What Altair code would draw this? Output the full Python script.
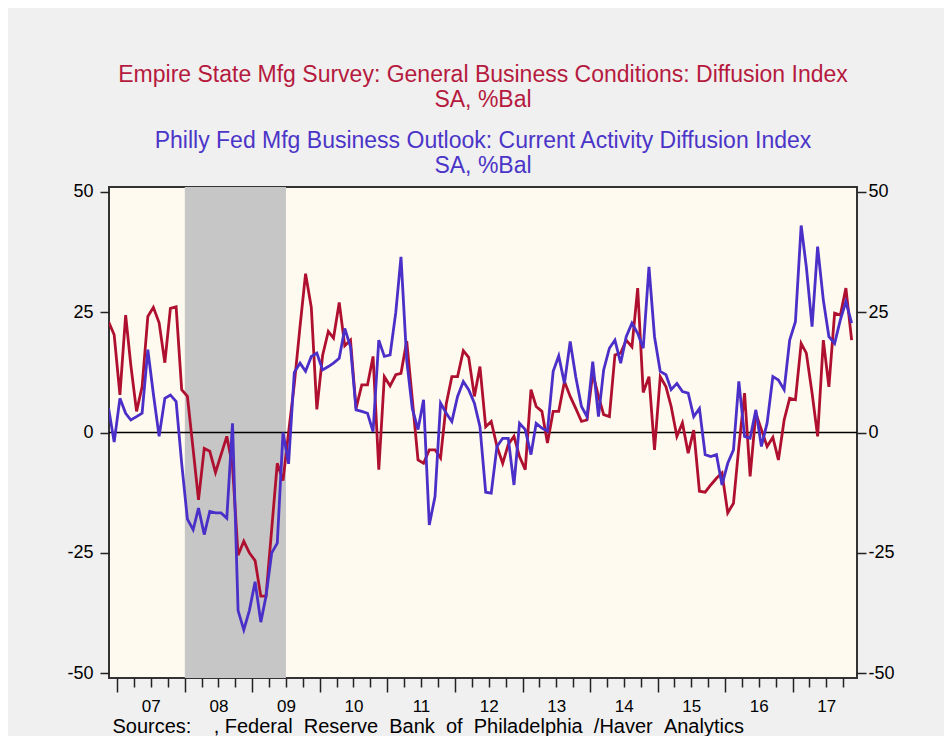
import altair as alt
import pandas as pd

FONT = "Liberation Sans"
RED = "#B0102F"
BLUE = "#4A2FC8"
RED_T = "#B51A3E"
BLUE_T = "#4B35C8"

# Monthly observations, Nov 2006 .. Nov 2017 (plotted mid-month)
start_month = "2006-11-01"
n_months = 133

empire = [
    23, 20.3,
    7.8, 24.4, 14, 4.4, 9.5, 24.1, 26, 22.8, 14.5, 25.8, 26.1, 8.9,
    7.5, -3.5, -14, -3.3, -3.9, -8.3, -4.6, -0.8, -7, -25.5, -22.6, -25,
    -26.6, -34, -34, -20, -6.4, -10, 0, 10, 22, 33, 26, 4.8,
    16, 21, 19.6, 27, 18, 19.2, 5, 9.9, 9.9, 15.8, -7.7, 11.6,
    9.7, 12, 12.3, 19, 7, -5.7, -6.4, -3.6, -3.6, -5.3, 6, 11.6,
    11.6, 17, 15.6, 7.5, 13.7, 1.2, 2.3, -2.9, -6.4, -2.5, -0.8, -5,
    -7.7, 8.9, 5.4, 4.4, -2.2, 4.4, 4.4, 10.6, 7.5, 5, 2.3, 2.6,
    12.3, 7.5, 3.7, 3.3, 16.1, 16.5, 19.2, 17.8, 30, 8.3, 11.6, -3.6,
    11.6, 9.5, 5.4, -0.8, 2, -4.3, 0.5, -12.2, -12.4, -10.9, -9.5, -8.4,
    -16.7, -14.7, -3, 8.2, -9.1, 4, 0.6, -2.9, -1, -5.7, 2.6, 7.1,
    6.8, 18.5, 16.5, 8.2, -0.8, 19.2, 9.5, 24.8, 24.4, 30, 19.2,
]

philly = [
    5, -2,
    7.1, 4, 2.6, 3.3, 4, 17.2, 8, -0.8, 7.1, 7.8, 6.4, -6.4,
    -18, -20.2, -15.7, -21.2, -16.4, -16.7, -16.7, -17.8, 1.9, -37, -41, -37,
    -31, -39.4, -34, -25, -23, 0, -6.5, 12.5, 14.4, 12.7, 15.8, 16.5,
    13, 13.7, 14.4, 15.4, 21.6, 17.8, 4.7, 4.4, 4, 0.2, 19.2, 15.8,
    16.1, 25, 36.5, 15, 5, 0.6, 6.8, -19.2, -13.3, 6.1, 4, 2.3,
    7.5, 10.6, 8.9, 6.1, 1.2, -12.4, -12.6, -2.9, -1.2, -1.2, -10.9, 1.9,
    0.6, -4.6, 1.9, 0.9, 0.3, 12.7, 15.9, 10.2, 18.9, 11.6, 5.4, 3.3,
    14.7, 3.3, 13, 17.5, 19.2, 14.4, 19.9, 22.7, 20.6, 17.5, 34.4, 19.9,
    12.7, 12, 8.9, 10.2, 8.5, 8.2, 3.3, 5, -4.6, -5, -4.6, -10.9,
    -6.4, -3.6, 10.6, -0.8, -1.2, 4.7, -2.9, 2, 11.6, 10.9, 8.9, 19.2,
    23, 43, 34.4, 22, 38.6, 27.5, 19.9, 18.5, 23.4, 27.2, 22.7,
]

recession_start = ["2008-01-01"]
recession_end = ["2009-07-01"]

y_ticks = [-50, -25, 0, 25, 50]
tick_years = list(range(2007, 2018))
tick_months = [1, 4, 7, 10]

title_lines = ["Empire State Mfg Survey: General Business Conditions: Diffusion Index", "SA, %Bal"]
subtitle_lines = ["Philly Fed Mfg Business Outlook: Current Activity Diffusion Index", "SA, %Bal"]
NB = "\u00a0"
GAP = NB * 2
sources = ("Sources:" + NB * 4 + ", Federal" + GAP + "Reserve" + GAP + "Bank" + GAP + "of"
           + GAP + "Philadelphia" + GAP + "/Haver" + GAP + "Analytics")

assert len(empire) == n_months and len(philly) == n_months

dates = [d.strftime("%Y-%m-15") for d in pd.date_range(start_month, periods=n_months, freq="MS")]
df = pd.DataFrame({"date": dates, "empire": empire, "philly": philly})
rec = pd.DataFrame({"start": recession_start, "end": recession_end})
zero = pd.DataFrame({"v": [0]})

x_scale = alt.Scale(
    type="utc",
    domain=[alt.DateTime(year=2006, month=11, date=17, utc=True),
            alt.DateTime(year=2017, month=12, date=14, utc=True)],
)
tick_values = [alt.DateTime(year=yy, month=mm, date=1, utc=True) for yy in tick_years for mm in tick_months]

x_axis = alt.Axis(
    values=tick_values,
    labelExpr="utcmonth(datum.value) == 6 ? utcFormat(datum.value, '%y') : ''",
    tickSize={"condition": {"test": "utcmonth(datum.value) == 0", "value": 14}, "value": 9},
    tickColor="#222",
    tickWidth=1.5,
    domain=False,
    grid=False,
    labelFont=FONT,
    labelFontSize=17,
    labelColor="black",
    labelPadding=11,
    labelOverlap=False,
    labelFlush=False,
    title=sources,
    titleFont=FONT,
    titleFontSize=20,
    titleFontWeight="normal",
    titleColor="black",
    titleAlign="left",
    titleAnchor="start",
    titleBaseline="alphabetic",
    titleX=3,
    titleY=54,
)

y_scale = alt.Scale(domain=[-51, 51], nice=False, zero=False)


def y_axis(orient, pad):
    return alt.Axis(
        orient=orient,
        values=y_ticks,
        labelExpr="datum.value < 0 ? '-' + abs(datum.value) : '' + datum.value",
        tickSize=9,
        tickWidth=1.5,
        tickColor="#222",
        domain=False,
        grid=False,
        labelFont=FONT,
        labelFontSize=18,
        labelColor="black",
        labelPadding=pad,
        labelFlush=False,
        title=None,
    )


X = alt.X("date:T", scale=x_scale, axis=x_axis)

rect = alt.Chart(rec).mark_rect(color="#C6C6C6").encode(
    x=alt.X("start:T", scale=x_scale, axis=x_axis),
    x2="end:T",
)

zero_rule = alt.Chart(zero).mark_rule(color="black", strokeWidth=1.5).encode(
    y=alt.Y("v:Q", scale=y_scale, axis=y_axis("left", 7)),
)

red_line = alt.Chart(df).mark_line(color=RED, strokeWidth=2.8, clip=True).encode(
    x=X,
    y=alt.Y("empire:Q", scale=y_scale, axis=y_axis("left", 7)),
)

blue_line = alt.Chart(df).mark_line(color=BLUE, strokeWidth=2.8, clip=True).encode(
    x=X,
    y=alt.Y("philly:Q", scale=y_scale, axis=y_axis("left", 7)),
)

right_axis_layer = alt.Chart(zero).mark_rule(strokeOpacity=0).encode(
    y=alt.Y("v:Q", scale=y_scale, axis=y_axis("right", 2)),
)

inner = alt.layer(rect, zero_rule, red_line, blue_line)

chart = alt.layer(inner, right_axis_layer).resolve_scale(y="independent").properties(
    width=748,
    height=491,
    autosize=alt.AutoSizeParams(type="none"),
    padding={"left": 101, "top": 179, "right": 87, "bottom": 58},
    background="#F0F0F0",
    title=alt.TitleParams(
        text=title_lines,
        subtitle=subtitle_lines,
        anchor="middle",
        frame="group",
        font=FONT,
        fontSize=23,
        fontWeight="normal",
        color=RED_T,
        lineHeight=25,
        subtitleFont=FONT,
        subtitleFontSize=23,
        subtitleColor=BLUE_T,
        subtitleLineHeight=25,
        subtitlePadding=18,
        offset=5,
    ),
).configure_view(
    fill="#FFFAEF",
    stroke="#333",
    strokeWidth=2,
)

chart.save("out.html", embed_options={"renderer": "svg", "actions": False})
